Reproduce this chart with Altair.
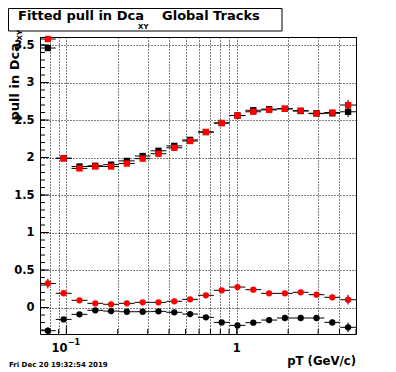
import altair as alt
import pandas as pd
import numpy as np

# ---- data ----
bin_edges = [0.070, 0.0866, 0.1072, 0.1328, 0.1643, 0.2034, 0.2519, 0.3118, 0.3860,
             0.4779, 0.5916, 0.7324, 0.9067, 1.1222, 1.3895, 1.7199, 2.1293, 2.6360,
             3.2636, 4.0395, 5.0]

black_sq = [3.46, 1.99, 1.88, 1.89, 1.905, 1.955, 2.02, 2.09, 2.155, 2.235,
            2.34, 2.46, 2.56, 2.63, 2.645, 2.65, 2.62, 2.59, 2.59, 2.61]
black_sq_err = [0.04, 0.01, 0.01, 0.01, 0.01, 0.01, 0.01, 0.01, 0.01, 0.01,
                0.01, 0.01, 0.01, 0.01, 0.01, 0.015, 0.015, 0.02, 0.03, 0.07]
red_sq = [3.58, 1.99, 1.855, 1.88, 1.88, 1.92, 1.985, 2.05, 2.13, 2.22,
          2.34, 2.46, 2.56, 2.61, 2.635, 2.65, 2.625, 2.585, 2.60, 2.70]
red_sq_err = [0.04, 0.01, 0.01, 0.01, 0.01, 0.01, 0.01, 0.01, 0.01, 0.01,
              0.01, 0.01, 0.01, 0.01, 0.01, 0.015, 0.015, 0.02, 0.03, 0.07]
red_ci = [0.32, 0.19, 0.096, 0.056, 0.043, 0.056, 0.069, 0.069, 0.083, 0.109,
          0.163, 0.229, 0.273, 0.238, 0.189, 0.189, 0.203, 0.171, 0.136, 0.104]
red_ci_err = [0.065, 0.02, 0.01, 0.01, 0.01, 0.01, 0.01, 0.01, 0.01, 0.01,
              0.01, 0.01, 0.01, 0.01, 0.01, 0.015, 0.015, 0.02, 0.04, 0.065]
black_ci = [-0.309, -0.158, -0.091, -0.037, -0.047, -0.056, -0.056, -0.051, -0.064, -0.087,
            -0.131, -0.198, -0.238, -0.202, -0.167, -0.14, -0.14, -0.14, -0.198, -0.264]
black_ci_err = [0.045, 0.02, 0.01, 0.01, 0.01, 0.01, 0.01, 0.01, 0.01, 0.01,
                0.01, 0.01, 0.01, 0.01, 0.01, 0.015, 0.015, 0.02, 0.04, 0.065]

x_grid_ticks = [0.08, 0.09, 0.1, 0.2, 0.3, 0.4, 0.5, 0.6, 0.7, 0.8, 0.9, 1, 2, 3, 4, 5]
x_major_ticks = [0.1, 1]
y_major_ticks = [0, 0.5, 1, 1.5, 2, 2.5, 3, 3.5]
y_minor_ticks = [round(-0.3 + 0.1 * i, 1) for i in range(40)]

FONT = "DejaVu Sans"
W, H = 316, 297

lo = np.array(bin_edges[:-1])
hi = np.array(bin_edges[1:])
xc = np.sqrt(lo * hi)

xscale = alt.Scale(type="log", domain=[0.07, 5.0], nice=False)
yscale = alt.Scale(domain=[-0.353, 3.607], nice=False, zero=False)
xaxis = alt.Axis(values=x_grid_ticks, grid=True, labels=False, ticks=False, domain=False,
                 title=None, gridDash=[1, 2], gridColor="black", gridOpacity=1, gridWidth=1)
yaxis = alt.Axis(values=y_major_ticks, grid=True, ticks=False, domain=False, title=None,
                 gridDash=[1, 2], gridColor="black", gridOpacity=1, gridWidth=1,
                 format=".1~f", labelFont=FONT, labelFontWeight="bold", labelFontSize=11.5,
                 labelColor="black", labelPadding=6)


def X(f):
    return alt.X(f, type="quantitative", scale=xscale, axis=xaxis)


def Y(f):
    return alt.Y(f, type="quantitative", scale=yscale, axis=yaxis)


def series_layers(vals, errs, shape, color):
    d = pd.DataFrame({"lo": lo, "hi": hi, "xc": xc, "v": vals, "e": errs})
    d["vlo"] = d["v"] - d["e"]
    d["vhi"] = d["v"] + d["e"]
    base = alt.Chart(d)
    hb = base.mark_rule(color="black", strokeWidth=1).encode(x=X("lo"), x2="hi", y=Y("v"))
    vb = base.mark_rule(color="black", strokeWidth=1).encode(x=X("xc"), y=Y("vlo"), y2="vhi")
    pt = base.mark_point(shape=shape, filled=True, size=40, opacity=1, color=color).encode(
        x=X("xc"), y=Y("v"))
    return [hb, vb, pt]


layers = []
layers += series_layers(black_sq, black_sq_err, "square", "black")
layers += series_layers(red_sq, red_sq_err, "square", "#ff0000")
layers += series_layers(black_ci, black_ci_err, "circle", "black")
layers += series_layers(red_ci, red_ci_err, "circle", "#ff0000")

# ticks (drawn inward like ROOT)
ymin_df = pd.DataFrame({"t": y_minor_ticks})
ymaj_df = pd.DataFrame({"t": y_major_ticks})
xt_df = pd.DataFrame({"t": x_grid_ticks})
xmaj_df = pd.DataFrame({"t": x_major_ticks})
layers.append(alt.Chart(ymin_df).mark_rule(color="black").encode(
    y=Y("t"), x=alt.value(0), x2=alt.value(5)))
layers.append(alt.Chart(ymaj_df).mark_rule(color="black").encode(
    y=Y("t"), x=alt.value(0), x2=alt.value(9)))
layers.append(alt.Chart(xt_df).mark_rule(color="black").encode(
    x=X("t"), y=alt.value(H), y2=alt.value(H - 5)))
layers.append(alt.Chart(xmaj_df).mark_rule(color="black").encode(
    x=X("t"), y=alt.value(H), y2=alt.value(H - 9)))

# x tick labels
lab_df = pd.DataFrame({"t": [0.1], "s": ["10"]})
sup_df = pd.DataFrame({"t": [0.1], "s": ["\u22121"]})
one_df = pd.DataFrame({"t": [1.0], "s": ["1"]})
layers.append(alt.Chart(lab_df).mark_text(font=FONT, fontWeight="bold", fontSize=11.5,
                                          align="right", baseline="alphabetic", dx=1, color="black").encode(
    x=X("t"), y=alt.value(315), text="s:N"))
layers.append(alt.Chart(sup_df).mark_text(font=FONT, fontWeight="bold", fontSize=8,
                                          align="left", baseline="alphabetic", dx=1.5, color="black").encode(
    x=X("t"), y=alt.value(308), text="s:N"))
layers.append(alt.Chart(one_df).mark_text(font=FONT, fontWeight="bold", fontSize=11.5,
                                          align="center", baseline="alphabetic", color="black").encode(
    x=X("t"), y=alt.value(315), text="s:N"))

# annotation texts
one = pd.DataFrame({"a": [0]})


def txt(s, x, y, size, align="left", angle=0):
    return alt.Chart(one).mark_text(text=s, font=FONT, fontWeight="bold", fontSize=size,
                                    align=align, baseline="alphabetic", angle=angle,
                                    color="black").encode(x=alt.value(x), y=alt.value(y))


layers.append(alt.Chart(one).mark_rect(fill="white", stroke="black", strokeWidth=1).encode(
    x=alt.value(-31.5), x2=alt.value(242), y=alt.value(-28.5), y2=alt.value(-6)))
layers.append(txt("Fitted pull in Dca", -22, -17, 13))
layers.append(txt("XY", 98, -8.5, 7))
layers.append(txt("Global Tracks", 122, -17, 13))
layers.append(txt("pull in Dca", -21.5, 6, 13, align="right", angle=270))
layers.append(txt("XY", -18.5, -7, 7, align="right", angle=270))
layers.append(txt("pT (GeV/c)", W, 328, 11.7, align="right"))
layers.append(txt("Fri Dec 20 19:32:54 2019", -31, 330, 7))

chart = alt.layer(*layers).properties(
    width=W, height=H,
    autosize=alt.AutoSizeParams(type="none"),
    padding={"left": 32, "top": 29, "right": 32, "bottom": 35},
    background="white",
).configure_view(stroke="black", strokeWidth=1)

chart.save("out.html", embed_options={"renderer": "svg", "actions": False})
